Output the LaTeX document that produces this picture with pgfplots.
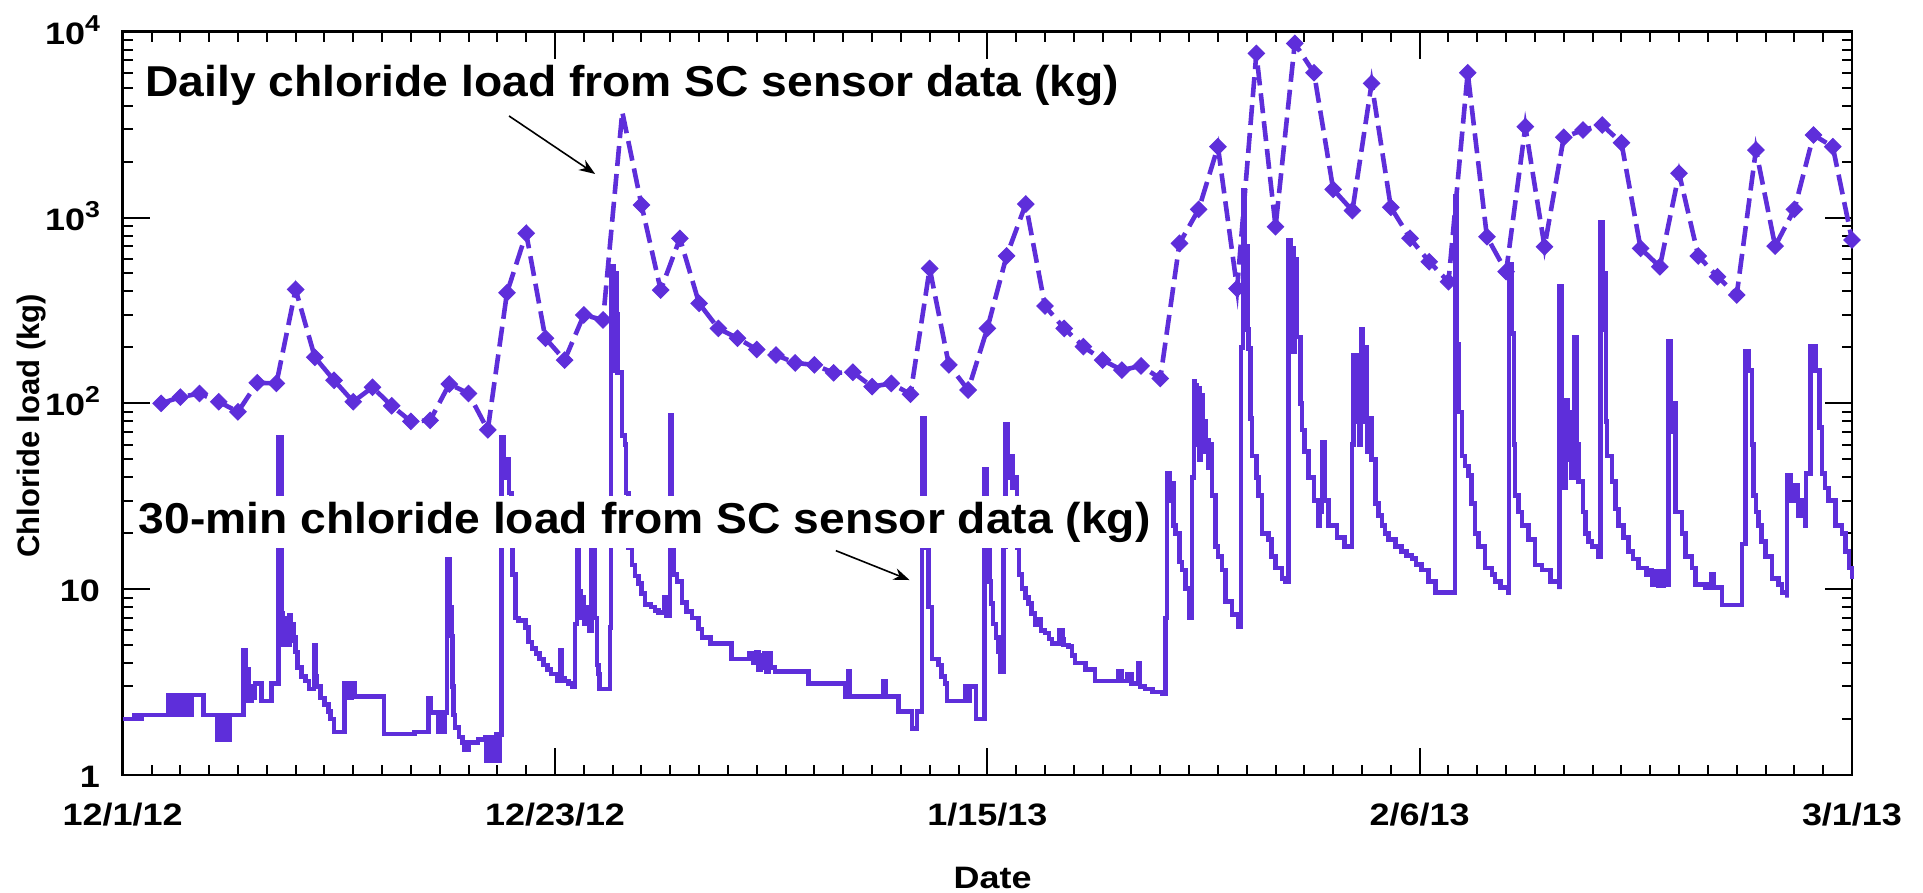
\documentclass[border=0pt]{standalone}
\usepackage{pgfplots}
\pgfplotsset{compat=1.18}
\usepackage{pgfplotstable}
\usepackage{fontspec}
\setmainfont{Liberation Sans}
\newfontfamily\tickfont{Liberation Sans}[FakeStretch=1.16]
\newfontfamily\annfont{Liberation Sans}[FakeStretch=1.07]
\usetikzlibrary{arrows.meta}
\definecolor{lc}{RGB}{94,46,218}
\newcommand\expo[1]{\raisebox{6.5pt}{\fontsize{11.5}{11.5}\selectfont #1}}

\pgfplotstableread{
day val
2 100
3 108
4 113
5 102
6 90
7 129
8 128
9 410
10 177
11 133
12 102
13 122
14 97
15 80
16 81
17 127
18 113
19 72
20 394
21 822
22 224
23 171
24 299
25 281
26 3700
27 1167
28 407
29 772
30 345
31 253
32 224
33 195
34 182
35 165
36 161
37 146
38 147
39 123
40 128
41 112
42 532
43 161
44 118
45 253
46 621
47 1181
48 334
49 253
50 202
51 171
52 151
53 159
54 136
55 726
56 1106
57 2405
58 415
59 7640
60 892
61 8650
62 6010
63 1417
64 1089
65 5270
66 1135
67 773
68 578
69 451
70 6010
71 788
72 511
73 3080
74 696
75 2700
76 2955
77 3145
78 2525
79 682
80 543
81 1730
82 621
83 480
84 383
85 2307
86 702
87 1106
88 2780
89 2405
90 757
}\dailytable

\begin{document}
\begin{tikzpicture}
\useasboundingbox (-61.35pt,-59pt) rectangle (900.15pt,387.5pt);
\begin{axis}[
  at={(0pt,0pt)}, anchor=south west,
  scale only axis, width=864.65pt, height=371.65pt,
  xmin=0, xmax=90, ymode=log, ymin=1, ymax=10000,
  clip=false,
  xtick={0,22.5,45,67.5,90},
  xticklabels={12/1/12,12/23/12,1/15/13,2/6/13,3/1/13},
  minor x tick num=14,
  ytick={1,10,100,1000,10000},
  yticklabels={1,10,10\expo{2},10\expo{3},10\expo{4}},
  minor ytick={2,3,...,9,20,30,...,90,200,300,...,900,2000,3000,...,9000},
  tick pos=both, tick align=inside,
  xticklabel pos=lower, yticklabel pos=left,
  major tick length=13.5pt, minor tick length=5pt,
  tick style={line width=1pt, black},
  axis line style={line width=1.2pt},
  xticklabel style={font=\tickfont\bfseries\fontsize{15.5}{15.5}\selectfont, anchor=base, inner sep=0pt, yshift=-25.1pt},
  yticklabel style={font=\tickfont\bfseries\fontsize{15.5}{15.5}\selectfont, anchor=base east, inner sep=0pt, xshift=-11.2pt, yshift=-6.3pt},
  xlabel={Date},
  xlabel style={font=\tickfont\bfseries\fontsize{15.5}{15.5}\selectfont, at={(axis description cs:0.503,0)}, anchor=base, yshift=-56.6pt},
  ylabel={Chloride load (kg)},
  ylabel style={font=\bfseries\fontsize{15.5}{15.5}\selectfont, at={(axis description cs:-0.0527,0.47)}, anchor=center},
]
% 30-min series
\addplot[const plot, color=lc, line width=2.3pt, line join=miter, mark=none] coordinates {
(0,2.0)(0.6,2.0)(0.6,2.1)(0.8,2.1)(0.8,2.0)(1.0,2.0)(1.0,2.1)(2.37,2.1)
(2.37,2.7)(2.45,2.1)(2.5,2.7)(2.55,2.1)(2.62,2.7)(2.7,2.1)(2.75,2.7)(2.8,2.1)(2.87,2.7)(2.95,2.1)(3.0,2.7)(3.15,2.1)
(3.33,2.7)(3.5,2.1)(3.6,2.7)(4.2,2.1)
(4.9,1.55)(4.98,2.1)(5.05,1.55)(5.12,2.1)(5.18,1.55)(5.3,2.1)(5.35,1.55)(5.55,2.1)
(6.28,4.7)(6.4,3.7)(6.54,2.5)(6.7,3.0)(6.8,2.6)(6.89,3.1)(7.23,2.5)(7.75,3.1)
(8.12,66)(8.25,30)(8.3,7.4)(8.35,5.0)(8.4,7.0)(8.47,5.2)(8.52,7.0)(8.6,5.0)(8.68,7.2)(8.75,5.3)(8.82,6.5)(8.9,5.5)(9.0,4.6)
(9.1,3.8)(9.3,3.4)(9.5,3.2)(9.7,2.9)(9.95,5.0)(10.05,3.4)(10.1,3.0)(10.3,2.6)(10.5,2.4)(10.7,2.2)(10.8,2.0)(11.0,1.7)(11.55,3.1)(11.65,2.6)(11.72,3.1)(11.8,2.6)(11.9,3.1)(12.1,2.65)(13.6,1.66)(15.2,1.7)
(15.9,2.6)(16.05,2.17)(16.45,1.7)(16.55,2.17)(16.65,1.7)(16.75,2.17)(16.87,14.4)(17.0,8)(17.1,5.6)(17.15,3)(17.22,2.1)(17.3,1.8)(17.5,1.6)(17.7,1.5)(17.8,1.36)(18.0,1.5)(18.5,1.55)(18.86,1.6)(18.9,1.2)(19.0,1.6)(19.1,1.2)(19.2,1.6)(19.3,1.2)(19.45,1.65)(19.55,1.2)(19.6,1.65)
(19.73,66)(19.85,40)(19.95,50)(20.1,33)(20.25,25)(20.3,12)(20.43,7.0)
(20.6,6.8)(20.95,6.2)(21.12,5.2)(21.3,4.8)(21.5,4.5)(21.7,4.2)(21.9,3.9)(22.1,3.7)(22.3,3.5)(22.6,3.2)(22.75,4.7)(22.85,3.3)(23.0,3.2)(23.2,3.1)(23.4,3.0)
(23.55,6.5)(23.65,28)(23.75,9.7)(23.85,7)(23.9,9)(24.0,6.5)(24.1,8)(24.16,7.2)(24.3,6.0)(24.4,25)(24.55,7)(24.68,3.9)(24.76,3.5)(24.8,2.9)(25.37,6.2)
(25.42,545)(25.55,150)(25.6,500)(25.7,300)(25.75,146)(25.98,67)(26.15,60)(26.2,33)(26.33,16.7)
(26.5,13.5)(26.67,11.8)(26.85,10.7)(27.0,9.5)(27.19,8.3)(27.5,8.0)(27.7,7.7)(27.89,7.5)(28.1,7.5)(28.2,9.0)(28.3,7.2)(28.48,86)(28.58,30)(28.62,16.7)(28.7,12)(28.85,11)
(29.1,8.5)(29.35,7.6)(29.62,7.0)(29.97,6.1)(30.15,5.5)
(30.6,5.1)(31.7,4.2)(32.6,4.5)(32.8,4.0)(33.0,4.6)(33.1,3.7)(33.2,4.4)(33.3,3.8)(33.4,4.5)(33.5,3.6)(33.6,4.5)(33.7,3.8)(33.95,3.6)(35.7,3.1)(37.6,2.64)(37.75,3.6)(37.85,2.64)(39.6,3.2)(39.7,2.64)(40.37,2.19)(41.07,1.78)(41.33,2.19)
(41.6,83)(41.75,20)(41.8,16.8)(41.95,8.0)(42.11,4.2)(42.46,3.9)(42.6,3.4)(42.8,3.1)(42.9,2.5)(43.85,3.0)(43.95,2.5)(44.1,3.0)(44.4,2.0)
(44.85,44)(44.95,30)(45.0,16.7)(45.1,11)(45.2,8.4)(45.3,6.5)(45.45,5.5)(45.58,4.6)(45.7,3.6)(45.84,17)(45.95,77)(46.05,40)(46.15,52)(46.3,35)(46.45,40)(46.55,16.7)(46.65,12)(46.8,10.1)
(47.0,9)(47.15,8.4)(47.3,7.4)(47.49,6.4)(47.7,6.9)(47.8,6.0)(48.01,5.8)(48.2,5.4)(48.36,5.1)(48.75,6.0)(48.9,5.4)(48.95,5.0)(49.23,4.9)(49.4,4.4)(49.57,4.0)(50.1,3.7)(50.6,3.2)(51.8,3.6)(52.0,3.2)(52.3,3.5)(52.5,3.1)(52.87,4.0)(52.95,3.0)(53.2,2.9)(53.6,2.8)(54.09,2.75)
(54.26,7.0)(54.35,42)(54.5,30)(54.6,37)(54.7,22)(54.78,20)(55.0,14)(55.13,12.7)(55.3,10.1)(55.5,7)(55.65,40)(55.75,131)(55.8,60)(55.85,125)(55.9,70)(56.0,120)(56.05,50)(56.1,110)(56.2,55)(56.3,80)(56.34,63)(56.5,45)(56.6,60)(56.7,32)(56.86,17)(57.0,15)(57.21,12.7)(57.38,8.6)(57.73,7.3)(58.08,6.3)
(58.2,200)(58.3,1400)(58.4,300)(58.45,700)(58.55,250)(58.6,198)(58.7,83)(58.77,52)(59.0,40)(59.12,32)(59.29,20)(59.64,18.5)(59.8,15)(59.99,13)(60.33,11.4)
(60.5,11.0)(60.67,750)(60.8,190)(60.85,684)(60.95,190)(61.0,596)(61.1,228)(61.3,100)(61.37,72)(61.5,55)(61.72,40)(62.0,30)(62.24,22)(62.3,26)(62.41,62)(62.55,30)(62.76,22)(63.2,19)(63.6,17)
(63.97,60)(64.05,181)(64.15,80)(64.25,181)(64.35,60)(64.45,249)(64.55,80)(64.6,200)(64.75,55)(64.84,83)(65.0,50)(65.19,29)(65.35,25)(65.53,22)(65.7,20)(65.88,18.5)(66.23,17)(66.57,16)(66.8,15.2)(67.1,14.6)(67.3,13.6)(67.6,12.7)(67.96,11)(68.31,9.6)
(69.33,1300)(69.43,207)(69.55,90)(69.7,52)(69.85,46)(70.04,41)(70.2,29)(70.39,20)(70.56,17)(70.91,13)(71.26,12)(71.43,11)(71.7,10.2)(72.13,9.6)
(72.15,560)(72.3,238)(72.4,60)(72.47,32)(72.65,26)(72.82,22)(73.17,18.5)(73.51,13.5)(73.86,12.7)(74.3,11)(74.78,10)
(74.78,425)(74.88,104)(75.0,35)(75.1,104)(75.2,50)(75.3,90)(75.4,40)
(75.55,228)(75.65,60)(75.77,38)(76.0,26)(76.12,20)(76.3,18)(76.47,17)(76.82,15)
(76.9,944)(77.0,250)(77.1,500)(77.2,80)(77.25,52)(77.51,38)(77.7,27)(77.86,22)(78.1,19)(78.38,16)(78.6,14.5)(78.9,13)(79.3,12)(79.5,12.7)(79.6,10.6)(79.8,12.5)(79.9,10.5)(80.0,12.5)(80.1,10.5)(80.2,12.5)(80.3,10.6)
(80.46,217)(80.58,70)(80.7,100)(80.81,26)(81.15,20)(81.33,15)(81.67,13)(81.85,10.6)(82.37,10.2)(82.6,10.6)(82.7,12)(82.8,10.2)(83.24,8.2)
(84.28,17.5)(84.45,190)(84.62,150)(84.8,60)(84.88,32)(85.0,26)(85.14,22)(85.3,18)(85.49,15)(85.84,11.4)(86.19,10.6)(86.36,9.6)(86.62,9.0)
(86.62,41)(86.8,30)(87.0,36)(87.2,25)(87.4,30)(87.57,22)(87.6,42)(87.85,203)(88.09,150)(88.3,74)(88.44,42)(88.6,35)(88.79,30)(89.14,22)(89.48,20)(89.66,16)(89.85,13)(90.0,11.4)
};
% daily series: dashed line
\addplot[color=lc, line width=2.3pt, dash pattern=on 10pt off 4pt, mark=none] table[x=day,y=val] {\dailytable};
% daily series: diamond markers (none at the unmarked peak)
\addplot[only marks, mark=square*, mark size=2.9pt, mark options={rotate=45, fill=lc, draw=lc, line width=0.5pt, solid}, skip coords between index={24}{25}] table[x=day,y=val] {\dailytable};

\node[font=\annfont\bfseries\fontsize{21.6}{21.6}\selectfont, fill=white, inner xsep=3pt, inner ysep=3pt, anchor=base west, xshift=-3pt] at (axis description cs:0.0129,0.9125) {Daily chloride load from SC sensor data (kg)};
\node[font=\annfont\bfseries\fontsize{21.6}{21.6}\selectfont, fill=white, inner xsep=3pt, inner ysep=3pt, anchor=base west, xshift=-3pt] at (axis description cs:0.009,0.3252) {30-min chloride load from SC sensor data (kg)};
\draw[line width=0.8pt, -{Stealth[length=8pt,width=6pt]}] (axis description cs:0.2234,0.8866) -- (axis description cs:0.2732,0.8086);
\draw[line width=0.8pt, -{Stealth[length=8pt,width=6pt]}] (axis description cs:0.4124,0.3018) -- (axis description cs:0.4550,0.2623);
\end{axis}
\end{tikzpicture}
\end{document}
